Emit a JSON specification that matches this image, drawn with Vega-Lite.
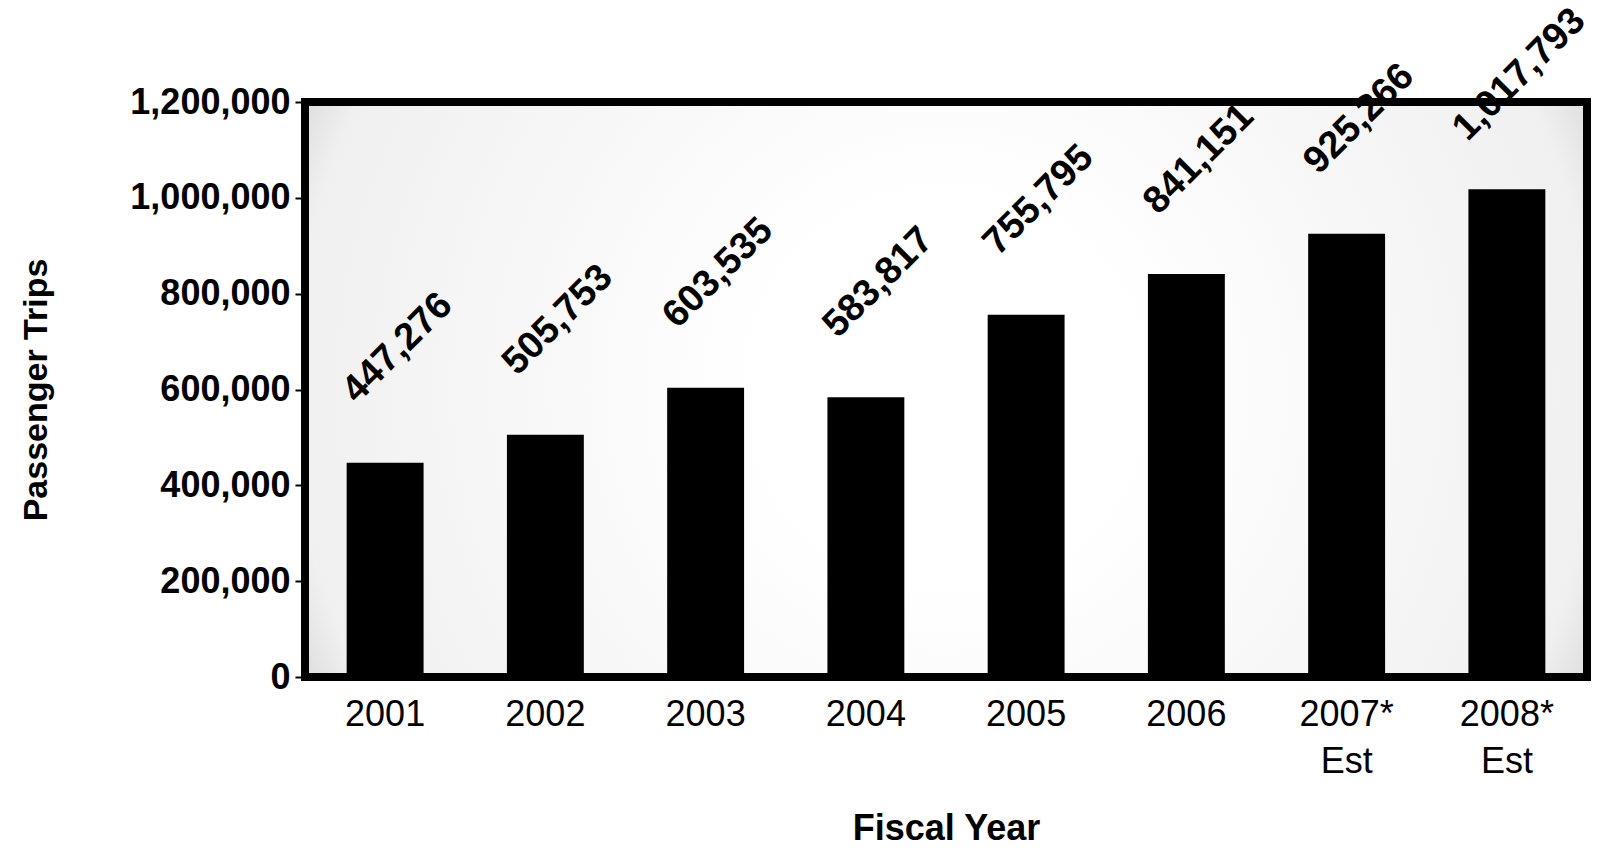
{
  "$schema": "https://vega.github.io/schema/vega-lite/v6.json",
  "autosize": "none",
  "width": 1282,
  "height": 575,
  "padding": {"left": 305, "top": 102, "right": 12, "bottom": 181},
  "background": "white",
  "config": {
    "font": "Liberation Sans",
    "view": {
      "stroke": "black",
      "strokeWidth": 8,
      "fill": {
        "gradient": "radial",
        "x1": 0.5, "y1": 0.5, "r1": 0.15,
        "x2": 0.5, "y2": 0.5, "r2": 0.75,
        "stops": [
          {"offset": 0, "color": "#ffffff"},
          {"offset": 0.6, "color": "#f0f0f0"},
          {"offset": 1, "color": "#808080"}
        ]
      }
    }
  },
  "data": {
    "values": [
      {"year": "2001", "trips": 447276, "label": "447,276"},
      {"year": "2002", "trips": 505753, "label": "505,753"},
      {"year": "2003", "trips": 603535, "label": "603,535"},
      {"year": "2004", "trips": 583817, "label": "583,817"},
      {"year": "2005", "trips": 755795, "label": "755,795"},
      {"year": "2006", "trips": 841151, "label": "841,151"},
      {"year": "2007* Est", "trips": 925266, "label": "925,266"},
      {"year": "2008* Est", "trips": 1017793, "label": "1,017,793"}
    ]
  },
  "encoding": {
    "x": {
      "field": "year",
      "type": "nominal",
      "sort": null,
      "scale": {"paddingInner": 0.52, "paddingOuter": 0.26},
      "axis": {
        "title": "Fiscal Year",
        "titleFont": "Liberation Sans",
        "titleFontSize": 36,
        "titleFontWeight": "bold",
        "titleColor": "black",
        "titleBaseline": "middle",
        "titleY": 151,
        "labelExpr": "split(datum.value, ' ')",
        "labelAngle": 0,
        "labelFontSize": 36,
        "labelColor": "black",
        "labelBaseline": "top",
        "labelPadding": 20,
        "labelLineHeight": 47,
        "ticks": false,
        "domain": false
      }
    },
    "y": {
      "field": "trips",
      "type": "quantitative",
      "scale": {"domain": [0, 1200000], "nice": false},
      "axis": {
        "title": "Passenger Trips",
        "titleFontSize": 34,
        "titleFontWeight": "bold",
        "titleColor": "black",
        "titleBaseline": "middle",
        "titleX": -269,
        "values": [0, 200000, 400000, 600000, 800000, 1000000, 1200000],
        "format": ",d",
        "labelFontSize": 36,
        "labelFontWeight": "bold",
        "labelColor": "black",
        "labelPadding": 5,
        "tickColor": "black",
        "tickSize": 10,
        "tickWidth": 2,
        "grid": false,
        "domain": false
      }
    }
  },
  "layer": [
    {"mark": {"type": "bar", "color": "black"}},
    {
      "mark": {
        "type": "text",
        "angle": -45,
        "align": "center",
        "baseline": "middle",
        "dx": 90,
        "dy": -72,
        "fontSize": 38,
        "fontWeight": "bold",
        "color": "black"
      },
      "encoding": {"text": {"field": "label"}}
    }
  ]
}
